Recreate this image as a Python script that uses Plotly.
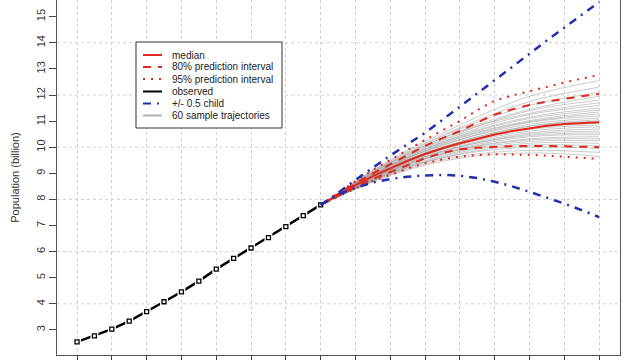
import plotly.graph_objects as go

# ---------------- data ----------------
years_obs = [1950, 1955, 1960, 1965, 1970, 1975, 1980, 1985, 1990, 1995, 2000, 2005, 2010, 2015, 2020]
observed = [2.54, 2.77, 3.03, 3.34, 3.70, 4.08, 4.46, 4.87, 5.33, 5.74, 6.14, 6.54, 6.96, 7.38, 7.79]

years_proj = [2020, 2025, 2030, 2035, 2040, 2045, 2050, 2055, 2060, 2065, 2070, 2075, 2080, 2085, 2090, 2095, 2100]
median = [7.79, 8.18, 8.55, 8.89, 9.20, 9.48, 9.74, 9.96, 10.15, 10.33, 10.49, 10.62, 10.73, 10.82, 10.89, 10.93, 10.96]
pi80_upper = [7.79, 8.21, 8.62, 9.00, 9.36, 9.72, 10.05, 10.35, 10.62, 10.95, 11.25, 11.45, 11.62, 11.75, 11.86, 11.95, 12.04]
pi80_lower = [7.79, 8.15, 8.48, 8.78, 9.05, 9.33, 9.58, 9.78, 9.92, 9.98, 10.02, 10.04, 10.05, 10.05, 10.04, 10.02, 10.00]
pi95_upper = [7.79, 8.25, 8.70, 9.13, 9.52, 9.91, 10.28, 10.65, 11.00, 11.42, 11.79, 11.98, 12.15, 12.32, 12.48, 12.63, 12.77]
pi95_lower = [7.79, 8.12, 8.42, 8.70, 8.95, 9.18, 9.39, 9.53, 9.64, 9.70, 9.73, 9.73, 9.71, 9.68, 9.64, 9.60, 9.55]
high_variant = [7.79, 8.25, 8.75, 9.22, 9.68, 10.12, 10.55, 11.05, 11.55, 12.06, 12.57, 13.08, 13.58, 14.09, 14.58, 15.07, 15.56]
low_variant = [7.79, 8.18, 8.44, 8.65, 8.78, 8.87, 8.92, 8.94, 8.91, 8.82, 8.68, 8.50, 8.29, 8.07, 7.84, 7.59, 7.32]

years_traj = [2020, 2040, 2060, 2080, 2100]
trajectories = [
    [7.79, 9.52, 10.85, 11.95, 12.55],
    [7.79, 9.48, 10.75, 11.75, 12.30],
    [7.79, 9.45, 10.70, 11.60, 12.10],
    [7.79, 9.40, 10.62, 11.45, 11.95],
    [7.79, 9.38, 10.55, 11.40, 11.80],
    [7.79, 9.42, 10.60, 11.30, 11.70],
    [7.79, 9.35, 10.50, 11.25, 11.60],
    [7.79, 9.30, 10.45, 11.15, 11.50],
    [7.79, 9.33, 10.42, 11.10, 11.42],
    [7.79, 9.28, 10.38, 11.02, 11.35],
    [7.79, 9.25, 10.35, 10.98, 11.28],
    [7.79, 9.30, 10.30, 10.95, 11.20],
    [7.79, 9.22, 10.28, 10.88, 11.12],
    [7.79, 9.20, 10.22, 10.82, 11.05],
    [7.79, 9.25, 10.20, 10.80, 11.00],
    [7.79, 9.18, 10.15, 10.72, 10.92],
    [7.79, 9.15, 10.12, 10.68, 10.85],
    [7.79, 9.20, 10.10, 10.62, 10.78],
    [7.79, 9.12, 10.05, 10.55, 10.70],
    [7.79, 9.10, 10.00, 10.50, 10.62],
    [7.79, 9.15, 10.02, 10.45, 10.55],
    [7.79, 9.08, 9.95, 10.40, 10.48],
    [7.79, 9.05, 9.92, 10.32, 10.40],
    [7.79, 9.10, 9.90, 10.28, 10.32],
    [7.79, 9.02, 9.85, 10.22, 10.25],
    [7.79, 9.00, 9.80, 10.15, 10.15],
    [7.79, 8.98, 9.75, 10.08, 10.05],
    [7.79, 9.02, 9.72, 10.00, 9.95],
    [7.79, 8.95, 9.65, 9.88, 9.80],
    [7.79, 8.92, 9.58, 9.78, 9.65],
]

y_ticks = [3, 4, 5, 6, 7, 8, 9, 10, 11, 12, 13, 14, 15]
legend_labels = ["median", "80% prediction interval", "95% prediction interval",
                 "observed", "+/- 0.5 child", "60 sample trajectories"]

# ---------------- style ----------------
RED = "#e0281e"
BLUE = "#2230b0"
GREY = "rgba(140,140,140,0.45)"
FONT = "Arial, Liberation Sans, Helvetica, sans-serif"
DASHDOT = "8px,6px,2px,6px"
DASH = "8px,7px"
DOT = "2px,6px"

fig = go.Figure()

for tr in trajectories:
    fig.add_trace(go.Scatter(x=years_traj, y=tr, mode="lines",
                             line=dict(color=GREY, width=1, shape="spline"),
                             hoverinfo="skip"))

for ys, dash in [(pi95_upper, DOT), (pi95_lower, DOT), (pi80_upper, DASH), (pi80_lower, DASH)]:
    fig.add_trace(go.Scatter(x=years_proj, y=ys, mode="lines",
                             line=dict(color=RED, width=2, dash=dash)))
fig.add_trace(go.Scatter(x=years_proj, y=median, mode="lines",
                         line=dict(color=RED, width=2)))

# observed: line with gaps around points (type "b")
fig.add_trace(go.Scatter(x=years_obs, y=observed, mode="lines",
                         line=dict(color="black", width=2.5)))
fig.add_trace(go.Scatter(x=years_obs, y=observed, mode="markers",
                         marker=dict(symbol="square", size=8, color="white")))
fig.add_trace(go.Scatter(x=years_obs, y=observed, mode="markers",
                         marker=dict(symbol="square-open", size=4, color="black",
                                     line=dict(width=1.3, color="black"))))

for ys in [high_variant, low_variant]:
    fig.add_trace(go.Scatter(x=years_proj, y=ys, mode="lines",
                             line=dict(color=BLUE, width=2.5, dash=DASHDOT)))

# ---------------- manual legend ----------------
W, H = 640, 360
ML, MR, MT, MB = 57, 20, 0, 5
pw, ph = W - ML - MR, H - MT - MB


def px(x):
    return (x - ML) / pw


def py(y):
    return (H - MB - y) / ph


shapes = [dict(type="rect", xref="paper", yref="paper",
               x0=px(136), x1=px(282), y0=py(128), y1=py(42),
               line=dict(color="#333333", width=1), fillcolor="white", layer="above")]
annotations = []
leg_styles = [(RED, "solid"), (RED, DASH), (RED, DOT), ("black", "solid"), (BLUE, DASHDOT), ("#b0b0b0", "solid")]
row_y = [55, 67, 79, 91.5, 103.5, 115.5]
for (col, dash), ry, lab in zip(leg_styles, row_y, legend_labels):
    shapes.append(dict(type="line", xref="paper", yref="paper",
                       x0=px(143), x1=px(162), y0=py(ry), y1=py(ry),
                       line=dict(color=col, width=2, dash=dash), layer="above"))
    annotations.append(dict(xref="paper", yref="paper", x=px(170), y=py(ry),
                            text=lab, showarrow=False, xanchor="left", yanchor="middle",
                            font=dict(family=FONT, size=10, color="#222222")))

fig.update_layout(
    width=W, height=H,
    margin=dict(l=ML, r=MR, t=MT, b=MB, autoexpand=False),
    plot_bgcolor="white", paper_bgcolor="white",
    showlegend=False, hovermode=False,
    shapes=shapes, annotations=annotations,
    font=dict(family=FONT, size=11, color="#333333"),
)
fig.update_xaxes(range=[1944.25, 2106.0], tickvals=list(range(1950, 2101, 10)),
                 showticklabels=False, ticks="outside", ticklen=6, tickcolor="#444444",
                 showline=True, linecolor="#555555", linewidth=1,
                 showgrid=True, gridcolor="#d0d0d0", griddash="dot", gridwidth=1,
                 zeroline=False, automargin=False)
fig.update_yaxes(range=[2.04, 15.64], tickvals=y_ticks, ticktext=[str(v) for v in y_ticks],
                 tickangle=-90, ticks="outside", ticklen=7, tickcolor="#444444",
                 tickfont=dict(size=11, color="#333333"),
                 showline=True, mirror=True, linecolor="#555555", linewidth=1,
                 showgrid=False, zeroline=False, automargin=False,
                 title=dict(text="Population (billion)", font=dict(size=11, color="#333333"), standoff=12))
# horizontal dotted grid on even values only
for v in [4, 6, 8, 10, 12, 14]:
    fig.add_hline(y=v, line=dict(color="#d0d0d0", width=1, dash="dot"), layer="below")

fig.write_html("out.html", config={"displayModeBar": False},
               post_script="document.body.style.margin='0';document.body.style.overflow='hidden';")
